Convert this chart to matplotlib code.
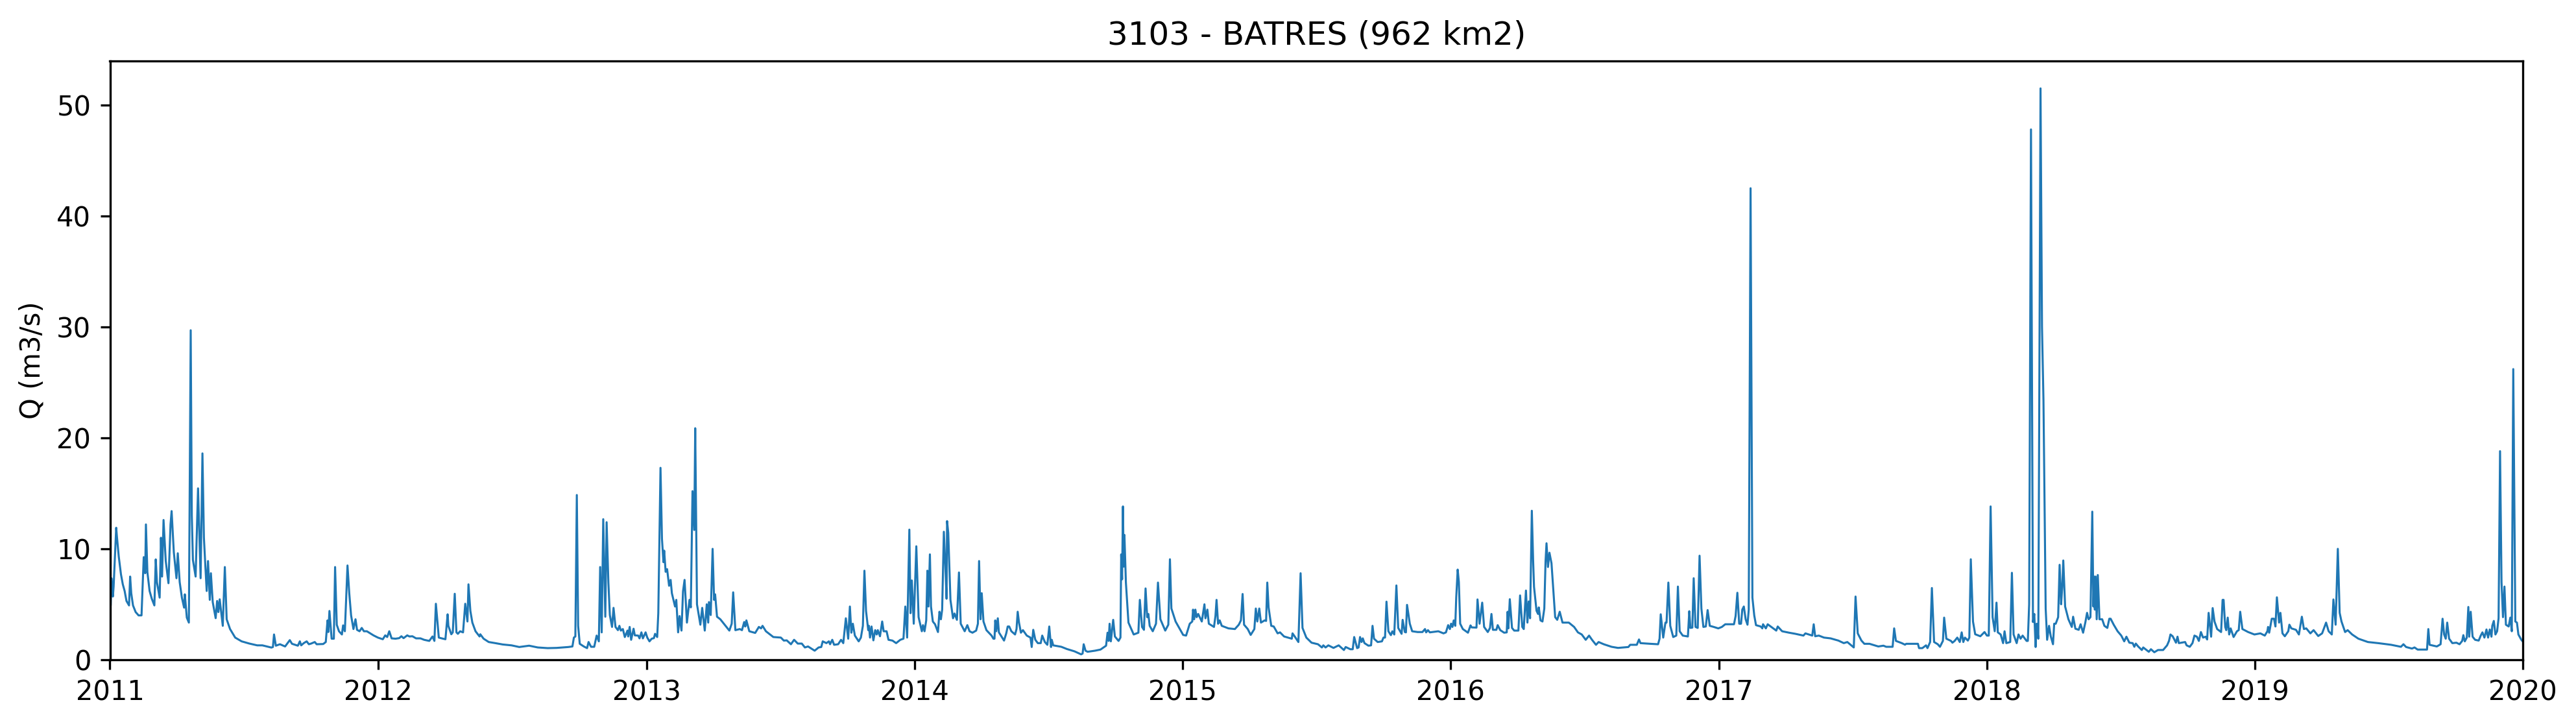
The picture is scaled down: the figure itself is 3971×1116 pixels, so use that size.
import pandas as pd
import matplotlib
matplotlib.use('Agg')
import matplotlib.pyplot as plt
import matplotlib.dates as mdates

title = '3103 - BATRES (962 km2)'
ylabel = 'Q (m3/s)'

## (day of the year, Q), one list per year
q_2011 = [(0,4.8),(1,4.9),(2,7.35),(4,5.7),(5,6.6),(8.5,11.9),(9.5,11.1),(12,9.3),(15,7.7),(17.5,6.8),(20,6.2),(22.5,5.3),(26,4.9),
          (27.5,7.5),(29,6),(31.4,4.9),(35,4.3),(39,4),(43,4),(46,9.25),(48,7.8),(49,12.2),(51,7.9),(54,6.2),(57,5.5),(60.5,4.9),
          (62.4,9.05),(64,7),(67.7,5.6),(69.5,11),(71,7.5),(73,12.6),(76,8.9),(79.7,6.9),(82.5,12.2),(84,13.4),(87,9.7),(90.6,7.35),
          (92.4,9.6),(95,7),(98,5.6),(101,4.7),(102,5.9),(104.7,3.8),(107.5,3.35),(110,29.7),(111.5,13),(113,9),(116.7,7.5),(120,15.45),
          (123.5,7.35),(126,18.6),(128,11),(130,8.4),(131.8,6.2),(133.6,8.9),(136,5.4),(137.5,7.8),(140,5.2),(144,3.75),(146,5.3),
          (147.7,4.3),(149.5,5.45),(153.7,3.06),(156.5,8.36),(159,3.65),(163.6,2.77),(170.6,2),(179.4,1.66),(190,1.46),(200.6,1.3),
          (207.6,1.3),(220,1.1),(222,1.15),(223.5,2.28),(226,1.27),(231.6,1.4),(238.6,1.2),(245,1.77),(248,1.44),(256,1.27),(258.7,1.66),
          (260.5,1.3),(264,1.5),(268,1.66),(271,1.4),(274,1.46),(279,1.6),(281.6,1.4),(290.5,1.42),(294,1.6),(296.4,3.55),(297.5,2.5),
          (299,4.4),(302,1.9),(305,1.9),(306.7,8.36),(309,3.15),(312,2.57),(316,2.28),(317.6,3.1),(320,2.57),(323.6,8.5),(326,6),
          (328.5,4),(331.7,2.77),(334.5,3.65),(336.6,2.7),(340,2.57),(343,2.87),(346,2.57),(350,2.57),(359,2.2)]

q_2012 = [(0,2),(6.7,1.85),(10,2.2),(12.7,2.05),(15.5,2.57),(18.7,1.93),(24,1.9),(29,1.95),(32,2.12),(35,1.95),(40,2.2),(43,2.1),
          (47,2.12),(52,1.93),(58,1.93),(63,1.8),(70,1.7),(74.4,2.1),(77,1.7),(79,5.05),(83,2),(87,1.93),(92,1.85),(95,4.1),(96,3.06),
          (100,2.3),(102,2.47),(104.7,5.95),(107,2.47),(109,2.34),(112,2.57),(116,2.47),(119,5.05),(122,3.45),(123.4,6.8),(126,4.4),
          (128.7,3.35),(133,2.57),(138.5,2.1),(139.5,2.3),(144,1.9),(151,1.6),(160,1.5),(170,1.38),(182,1.3),(192.6,1.15),(206,1.27),
          (217.8,1.11),(231.3,1.05),(243.6,1.07),(259.4,1.15),(265,1.2),(267,2),(269,2.1),(271,14.85),(272.8,3.06),(275,1.44),(280.5,1.2),
          (285,1.05),(287,1.6),(290.4,1.17),(294.7,1.17),(298,2.18),(301,1.66),(302.8,8.36),(304.9,2.47),(307,12.67),(309.8,3.88),
          (311.6,12.4),(314,6.96),(316,4.03),(319,2.96),(321,4.68),(323.7,2.96),(327,2.67),(329,3.06),(331,2.63),(333.7,2.77),(336.4,2.05),
          (340,2.63),(341,2.1),(343,2.96),(345,1.8),(348.3,2.8),(350,2.2),(354.7,2.18),(356.4,1.93),(359,2.47),(361,1.93),(364.7,2.47)]

q_2013 = [(1,2),(4,1.66),(7,1.9),(10,1.95),(11.6,2.34),(14.5,2.05),(16,4.2),(19,17.3),(21,10.9),(23,8.8),(24,9.84),(26,7.93),(28,8.17),
          (30.7,6.67),(32.8,7.2),(34.5,6),(38.8,4.8),(40.5,5.4),(43,2.47),(45,3.94),(47.6,2.63),(49.7,6.18),(51.8,7.2),(55,3.35),(58.5,5.4),
          (60.3,4.72),(62.6,15.2),(65,11.7),(66.3,20.87),(68.7,5),(73.3,3.16),(75.8,4.68),(79.3,2.63),(82,5),(84,3.35),(85,5.2),(87.4,4.03),
          (90,10),(92,5.4),(93.4,5.9),(96,3.88),(100.5,3.65),(112.8,2.63),(116,3.25),(118,6.08),(121,2.67),(127,2.77),(130,2.67),(133,3.4),
          (134.5,3),(136,3.55),(140,2.57),(148,2.42),(153,2.96),(156,2.83),(158,3.06),(162.6,2.57),(172.7,2.05),(183,2),(187,1.73),(191,1.75),
          (196.7,1.4),(201,1.8),(206,1.46),(211.5,1.46),(215.7,1.11),(220,1.2),(229,0.82),(234.4,1.11),(238,1.15),(240,1.66),(245,1.5),
          (248.4,1.66),(250,1.4),(253,1.8),(255.5,1.35),(261,1.4),(265,1.8),(268,1.5),(271.5,3.74),(274.7,1.9),(277,4.8),(279,2.44),(281,3.25),
          (283.8,2.18),(289,1.66),(292,2),(294.7,3.06),(296.8,8.03),(299,4.4),(302,2.67),(303,3.06),(304.4,2),(306.5,3),(309,1.75),(311.5,2.67),
          (313.6,2.28),(315,2.67),(318,2.12),(321,3.45),(323,2.57),(327,2.57),(329.6,1.8),(335,1.73),(340,1.5),(345.7,1.8),(350,1.9),
          (352.5,4.8),(355,2),(358,11.73),(359.6,4.2),(361.4,7.15),(364,3.25)]

q_2014 = [(2.5,10.23),(5.6,3.84),(10,2.57),(11.6,3.12),(13.7,2.57),(16,3.55),(17.6,8.03),(19,4.8),(21,9.5),(22.5,4.8),(25,3.45),(28,3.2),
          (32,2.5),(34,4.33),(36,3.65),(37.7,4.52),(40,11.54),(42,8.5),(43.7,5.5),(44.4,12.5),(46,11.44),(49,5.4),(52.5,3.74),(54.6,4.17),
          (57.8,3.6),(60.6,7.87),(63,3.25),(68.4,2.57),(72,3.12),(75,2.57),(79,2.44),(84,2.63),(86.4,3.25),(88,8.9),(90,3.65),(91.6,6),
          (94,3.45),(98,2.67),(105,2.18),(107.5,1.9),(109,1.9),(110,3.55),(111.4,2.57),(113.5,3.74),(115,2.47),(122,1.73),(125,2.38),(127,3),
          (129,3),(132,2.57),(137,2.28),(139,2.77),(140.6,4.33),(142.4,3.35),(145,2.44),(147.7,2.67),(153,2.18),(158,2),(159.7,1.15),(161.8,2.7),
          (164.6,1.8),(168,1.5),(172,1.5),(174,2.18),(177.6,1.6),(181,1.35),(183.6,3),(186,1.15),(187,1.8),(189,1.3),(200,1.17),(207.6,0.97),
          (218,0.76),(227,0.49),(229,0.56),(230.5,1.4),(233,0.82),(235.8,0.72),(246,0.82),(253.4,0.92),(261,1.27),(263,2.44),(264.5,1.7),
          (265.8,3.25),(267.5,1.66),(270.7,3.6),(273,2.1),(278,1.7),(280.6,2),(281.6,9.5),(282.8,7.25),(284,13.82),(285,8.4),(286,11.25),
          (288,6.96),(291.5,3.35),(298.6,2.28),(305,2.44),(307,5.4),(310,2.96),(312.6,2.7),(314.8,6.43),(317,3.84),(318.6,4.13),(320.4,3.06),
          (324.6,2.57),(329,3.25),(331.7,6.96),(335,3.65),(341.6,2.63),(345.8,3.16),(348,9.06),(350,4.62),(355.7,3.45),(361,2.83)]

q_2015 = [(1,2.24),(5,2.18),(10,3.25),(13.4,3.45),(14.5,4.52),(16,3.65),(17.6,4.52),(19.4,3.84),(21.5,4.13),(26.4,3.45),(30,5),(31.4,3.74),
          (34,4.52),(36,3.25),(43,2.96),(45,3.94),(46.5,5.4),(48.6,3.25),(50.8,3.55),(53.6,3.06),(62.7,2.83),(71.5,2.77),(76.8,3.16),(79.7,3.55),
          (82,5.93),(84,3.16),(89,2.77),(93,2.24),(98,2.77),(100,4.62),(102,3.45),(104.7,4.62),(107,3.35),(112,3.55),(114,3.5),(115.6,6.96),
          (117.4,4.72),(121,3.06),(124.4,3),(129.7,2.38),(133,2.47),(138.5,2.1),(149,1.9),(150,2.38),(153.5,2.05),(158,1.6),(161,7.8),(163.6,2.87),
          (168.8,2),(175.9,1.54),(181,1.46),(184.7,1.4),(190,1.11),(192,1.3),(195,1.11),(198.8,1.3),(205.8,1.07),(212.9,1.3),(220,0.88),(222.4,1.15),
          (228.8,0.95),(232,0.95),(234,2.05),(238,1.05),(240,1.11),(242,2.05),(244,1.6),(245.7,1.93),(248,1.5),(253.4,1.27),(257,1.3),(259,3.06),
          (261,1.9),(266,1.6),(271.8,1.66),(273.9,2),(276,2),(278,5.24),(280.6,2.57),(284,2.22),(286,2.57),(288.6,2.28),(291.5,6.7),(294,2.87),
          (298.6,2.34),(300,3.6),(303,2.5),(304.5,2.47),(306,4.95),(309.8,3.25),(313,2.57),(320.4,2.5),(327,2.5),(330.5,2.77),(332,2.47),(334.5,2.67),
          (337,2.47),(348.6,2.57),(355.7,2.38),(359,2.47),(362,3.12),(364.4,2.77)]

q_2016 = [(1,3.25),(2.8,2.96),(4.6,3.55),(6.7,3.06),(8,5.6),(10,8.13),(11.6,7),(13.4,3.25),(17,2.77),(24,2.44),(27.5,3.1),(29,2.92),(35.6,2.9),
          (37,5.44),(39.8,3.25),(43.4,5.15),(46,2.96),(51,2.5),(54,2.87),(56,4.13),(58,2.7),(62.7,2.7),(64.5,3.12),(68,2.67),(73.3,2.44),(76.8,2.47),
          (78,4.33),(79,2.83),(81,5.46),(84,2.87),(87,2.63),(92.7,2.63),(95,5.8),(98,2.96),(100,2.77),(103,6.24),(105,3.35),(106.8,5.26),(108.6,3.74),
          (111,13.43),(112.8,8.9),(114,6.57),(117.4,4.42),(119.5,4.13),(120.5,4.72),(122.8,3.55),(125.5,3.45),(128,4.62),(129.7,8.9),(131,10.5),
          (133,8.36),(135,9.65),(137.8,8.7),(140,6.57),(142.8,3.84),(145.6,3.6),(149,4.33),(152.8,3.35),(161.4,3.35),(168.6,2.96),(173.8,2.47),
          (179,2.28),(184.4,1.8),(189,2.18),(193,1.8),(198.4,1.35),(202,1.6),(209,1.4),(219.6,1.17),(228.4,1.07),(242.5,1.15),(245,1.35),(254,1.35),
          (257,1.83),(259,1.5),(272.5,1.44),(283,1.4),(285,1.9),(286.6,4.1),(290,2),(293,3.35),(294.5,3.35),(297,6.96),(299.6,3.06),(303.6,2.05),
          (307.8,2.18),(310,6.6),(312.4,2.57),(316.6,2.18),(323.6,2.1),(325.5,4.38),(327,2.87),(329.7,2.9),(331.5,7.35),(334,2.96),(337,2.87),
          (339.5,9.38),(342,4.62),(344.7,2.96),(348,3),(350.5,4.48),(353.4,3.06),(358.8,2.96),(365,2.83)]

q_2017 = [(3.9,2.96),(8.5,3.2),(20.4,3.2),(22.6,3.94),(25,6.04),(27.5,3.25),(30,3.25),(31.7,4.52),(33.8,4.8),(36.3,3.65),(38.8,3.16),(40.5,4.5),
          (43,42.5),(45.5,5.6),(48,4),(50.4,3.12),(56.8,3),(59,2.83),(60,3.2),(63.8,2.83),(66.3,3.2),(78,2.63),(80,3),(86,2.57),(95.5,2.44),
          (104,2.34),(115,2.18),(117.7,2.38),(127,2.18),(129,3.2),(131,2.12),(136,2.18),(143,2),(152,1.93),(162.6,1.73),(170,1.5),(174.8,1.6),
          (183.6,1.11),(186,5.7),(189,2.38),(194,1.73),(198,1.44),(205,1.44),(217,1.2),(224,1.27),(227.7,1.17),(236.5,1.17),(238.6,2.83),(241,1.7),
          (249,1.5),(253.4,1.36),(255,1.44),(271,1.44),(272.5,1.05),(277,1.05),(282,1.3),(284,1.05),(287.6,1.6),(290,6.47),(293,1.6),(298,1.4),
          (301,1.17),(305,1.7),(306.7,3.8),(309.7,1.9),(316,1.7),(318,1.54),(321,1.7),(324.6,2),(328,1.6),(330.6,2.47),(332.8,1.6),(335,2),(339,1.73),
          (341,2),(343,9.06),(346,3.45),(349,2.3),(356,2.12),(361.7,2.5),(365,2.18)]

q_2018 = [(2.5,2.18),(5,13.82),(7.7,3.84),(10.6,2.57),(13,5.15),(14.8,2.47),(18.7,2.28),(22,1.5),(24,2.57),(26.4,1.5),(31.7,1.6),(34,7.84),(36.3,2.28),
          (40.5,1.5),(43,2.28),(45.8,1.9),(48.6,2.18),(54,1.7),(55.7,1.7),(57.5,5),(60,47.8),(62.7,3.4),(64.5,4.13),(66.3,1.15),(67.7,3.25),(70,1.9),
          (73,51.5),(75,30),(77,23.4),(80,4.62),(82,1.8),(84.6,3.06),(87,2.1),(90,1.4),(91.6,3.25),(93.7,3.25),(97,3.84),(99,8.56),(101,5),(102.5,6.5),
          (104,8.95),(106.5,4.8),(111,3.65),(115.6,2.96),(117.4,3.88),(120.5,2.8),(125,2.7),(127.6,3.2),(131,2.44),(134,3.35),(136.4,4.23),(138.5,3.65),
          (141,3.84),(143.5,13.35),(145,4.8),(146,7.5),(147,4.52),(148,7.5),(149.5,3.65),(151,7.64),(153.3,3.65),(157,3.65),(160,3.06),(164,2.87),
          (166.7,3.7),(168.5,3.7),(172.7,3.16),(178,2.57),(183,2.18),(187,1.66),(190,2.08),(194,1.54),(198.5,1.5),(200.8,1.17),(202.8,1.46),(206,1.2),
          (211,0.88),(212.9,1.11),(216,0.95),(220.5,0.72),(223.4,0.95),(228,0.68),(233,0.88),(240,0.88),(245.4,1.3),(248,1.7),(250,2.28),(253,2.12),
          (257.5,1.54),(259.6,2.08),(261.4,1.5),(270,1.6),(272,1.3),(276.3,1.17),(280,1.5),(282.7,2.18),(286,2.08),(288.7,1.7),(291.5,2.5),(294.4,2),
          (298,2.08),(300,1.83),(302,4.23),(305.4,2.08),(307.5,4.66),(310,3.45),(313.6,2.77),(319,2.5),(321,5.4),(322.4,5.4),(324.6,2.96),(326,2.67),
          (328,3.8),(330,2.28),(332,2.83),(336,2.05),(340.6,2.57),(343,2.67),(345,4.33),(348,2.77),(355.8,2.5),(364.4,2.28)]

q_2019 = [(4.6,2.34),(7.5,2.38),(13.5,2.18),(17,2.57),(18,2.96),(19.5,2.44),(23,3.7),(26,3.7),(28,3),(30,5.63),(33,3.35),(34.8,4.23),(37.6,2.38),
          (40.8,2.12),(45.5,2.57),(47,3.16),(49.7,2.83),(56,2.7),(60,2.28),(64,3.88),(66.8,2.77),(70,2.83),(75.6,2.38),(80,2.67),(86.3,2.14),(91.6,2.38),
          (97,3.35),(100.5,2.57),(104.8,2.28),(107,5.44),(110,3.16),(113,10),(115.5,4.23),(118,3.45),(122.9,2.5),(126.4,2.67),(132.5,2.28),(141,1.9),
          (154,1.6),(168,1.5),(185.6,1.35),(199,1.17),(202.4,1.4),(206,1.15),(214,1.01),(217.5,1.11),(221.7,0.92),(234.5,0.92),(236.3,2.77),(238,1.35),
          (247.9,1.2),(253,1.4),(255.7,3.7),(257.8,2.28),(260,1.9),(262,3.35),(264.6,1.9),(269,1.5),(274.6,1.54),(278.8,1.4),(282.4,1.7),(284,2.22),
          (286,1.66),(288.7,2),(290.8,4.76),(292,2.08),(294,4.33),(296.6,2.08),(300,1.8),(304.9,1.73),(307.7,2.18),(310,2.47),(312.7,2),(315.5,2.73),
          (317.7,2),(320,2.73),(322.3,2.08),(323.4,3.06),(325.5,3.5),(327.7,2.28),(330,2.57),(332,3.74),(334,18.8),(336,7),(338,3.84),(340,6.6),(342,3.16),
          (345.7,3),(348,3.8),(350,2.57),(352,26.2),(354.8,3.45),(357,3.35),(359,2.28),(363,1.8),(365,1.65)]

years = [2011,2012,2013,2014,2015,2016,2017,2018,2019]
all_q = [q_2011,q_2012,q_2013,q_2014,q_2015,q_2016,q_2017,q_2018,q_2019]

dates = []
values = []
for year,rows in zip(years,all_q):
    start = pd.Timestamp(year=year,month=1,day=1)
    for day,q in rows:
        dates.append(start+pd.Timedelta(days=day))
        values.append(q)

fig = plt.figure(figsize=(3971/300,1116/300),dpi=300)
ax = fig.add_axes([169.5/3971,1-1017/1116,3719.5/3971,923.5/1116])
ax.plot(dates,values,color='C0',linewidth=0.75)
ax.set_xlim(pd.Timestamp('2011-01-01'),pd.Timestamp('2020-01-01'))
ax.set_ylim(0,54)
ax.xaxis.set_major_locator(mdates.YearLocator())
ax.xaxis.set_major_formatter(mdates.DateFormatter('%Y'))
ax.set_ylabel(ylabel)
ax.set_title(title)
fig.savefig('out.png',dpi=300)
